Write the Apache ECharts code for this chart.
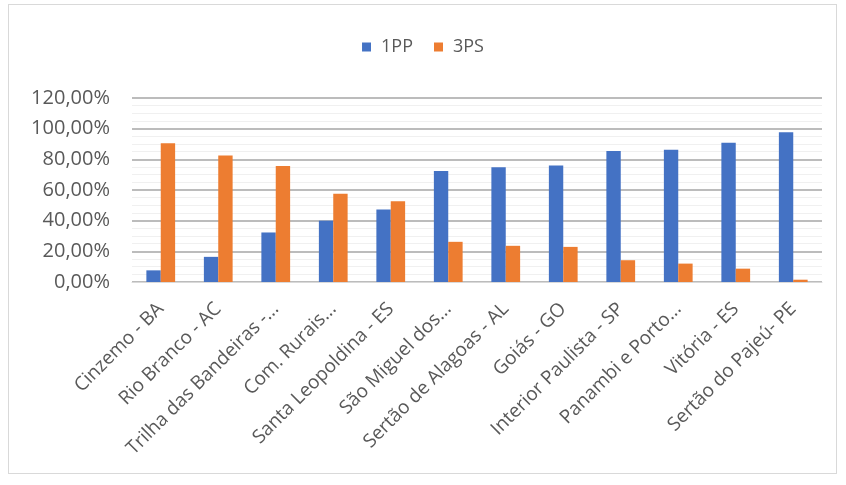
<!DOCTYPE html>
<html>
<head>
<meta charset="utf-8">
<script src="https://cdn.jsdelivr.net/npm/echarts@6/dist/echarts.min.js"></script>
<style>
  html, body { margin: 0; padding: 0; background: #fff; }
  #frame { position: absolute; left: 8px; top: 4px; width: 829px; height: 470px; border: 1px solid #d9d9d9; box-sizing: border-box; }
  #chart { position: absolute; left: 0; top: 0; width: 846px; height: 485px; }
</style>
</head>
<body>
<div id="frame"></div>
<div id="chart"></div>
<script>
// categorias (rótulos já truncados como no gráfico original)
const categories = ['Cinzemo - BA', 'Rio Branco - AC', 'Trilha das Bandeiras -...', 'Com. Rurais...',
  'Santa Leopoldina - ES', 'São Miguel dos...', 'Sertão de Alagoas - AL', 'Goiás - GO',
  'Interior Paulista - SP', 'Panambi e Porto...', 'Vitória - ES', 'Sertão do Pajeú- PE']
const series1PP = [7.6, 16.4, 32.3, 40.0, 47.3, 72.4, 74.8, 75.9, 85.5, 86.2, 90.8, 97.7]
const series3PS = [90.5, 82.5, 75.7, 57.6, 52.6, 26.2, 23.6, 22.9, 14.2, 12.0, 8.7, 1.5]
const yTicks = [0, 20, 40, 60, 80, 100, 120]

const chart = echarts.init(document.getElementById('chart'))

const fmt = v => v.toFixed(2).replace('.', ',') + '%'

const option = {
  animation: false,
  textStyle: { fontFamily: 'Open Sans' },
  legend: {
    top: 33,
    left: 'center',
    itemWidth: 9,
    itemHeight: 9,
    itemGap: 21,
    icon: 'rect',
    textStyle: { color: '#595959', fontSize: 18, padding: [0, 0, 0, 5] },
    data: ['1PP', '3PS']
  },
  grid: { left: 132, right: 24, top: 98, bottom: 203 },
  xAxis: {
    type: 'category',
    data: categories,
    axisLine: { lineStyle: { color: '#d9d9d9' } },
    axisTick: { show: false },
    axisLabel: {
      interval: 0,
      rotate: 45,
      color: '#595959',
      fontSize: 19,
      margin: 24
    }
  },
  yAxis: {
    type: 'value',
    min: yTicks[0],
    max: yTicks[yTicks.length - 1],
    interval: 20,
    axisLine: { show: false },
    axisTick: { show: false },
    axisLabel: { color: '#595959', fontSize: 20, margin: 22, formatter: fmt },
    splitLine: { lineStyle: { color: '#a6a6a6', width: 1.5 } },
    minorTick: { show: false, splitNumber: 4 },
    minorSplitLine: { show: true, lineStyle: { color: '#f0f0f0' } }
  },
  series: [
    {
      name: '1PP',
      type: 'bar',
      data: series1PP,
      itemStyle: { color: '#4472c4' },
      barGap: '0%',
      barCategoryGap: '50%'
    },
    {
      name: '3PS',
      type: 'bar',
      data: series3PS,
      itemStyle: { color: '#ed7d31' }
    }
  ]
}
chart.setOption(option)
</script>
</body>
</html>
